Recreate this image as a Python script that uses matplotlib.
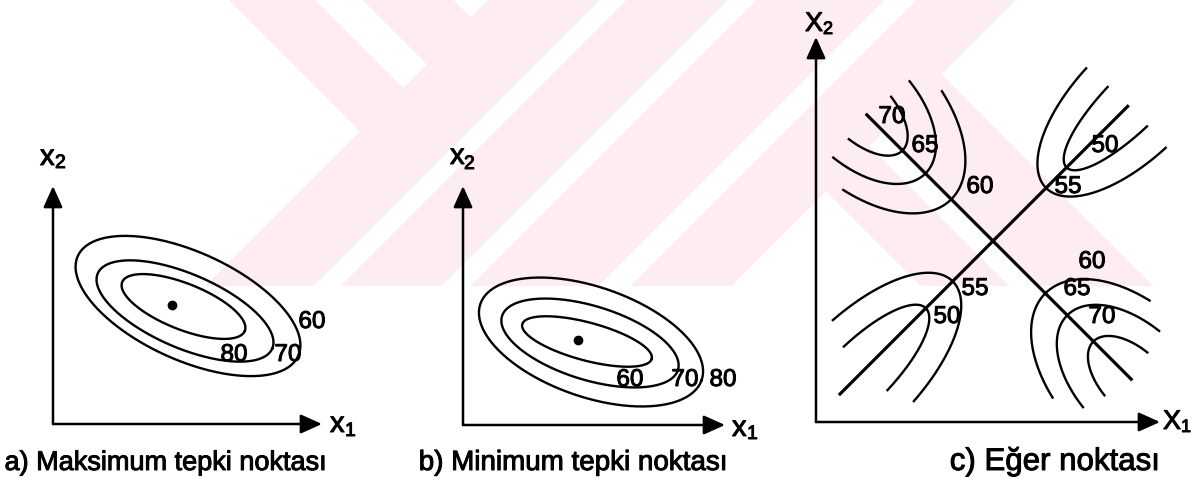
import numpy as np
import matplotlib
matplotlib.use("Agg")
import matplotlib.pyplot as plt
import matplotlib.patheffects as pe

plt.rcParams['font.family'] = ['Liberation Sans', 'DejaVu Sans']

# ---------------- data ----------------
max_levels = [80, 70, 60]            # a) contour levels, inner -> outer
min_levels = [60, 70, 80]            # b) contour levels, inner -> outer
saddle_rise_levels = [60, 65, 70]    # c) levels rising toward upper-left / lower-right
saddle_fall_levels = [55, 50]        # c) levels falling toward upper-right / lower-left
captions = ['a) Maksimum tepki noktası', 'b) Minimum tepki noktası', 'c) Eğer noktası']
axis_names_ab = [('x', '1'), ('x', '2')]
axis_names_c = [('X', '1'), ('X', '2')]

# ---------------- geometry (pixel units, y up, origin at axis corner) ----------------
W, H = 1193, 489
ell_a = dict(cx=[130.5, 132, 135], cy=[117.5, 113, 118], a=[66, 95, 121], b=[23, 37, 54], ang=[-21.7, -23.3, -24.4])
ell_b = dict(cx=[124, 127, 128], cy=[83.5, 82, 83], a=[67, 92, 117], b=[19, 37, 55], ang=[-15, -17, -19])
opt_a, opt_b = (119, 119), (115, 85)
lab_a = {80: (181, 69), 70: (235, 69), 60: (259, 102)}
lab_b = {60: (167, 45), 70: (222, 45), 80: (260, 45)}

sad_c = (177, 181)
ridge_ext = (180, 197)     # along 135 deg / -45 deg
valley_ext = (192, 218)    # along 45 deg / -135 deg
lobes = [
    dict(ang=135, Sc=190, lev=saddle_rise_levels, a_s=[131, 94.5, 62], a_t=[75, 55, 31], phi=[68.5, 79, 75]),
    dict(ang=-45, Sc=200, lev=saddle_rise_levels, a_s=[126, 95, 58], a_t=[74, 55, 31], phi=[68, 78.5, 78]),
    dict(ang=45, Sc=200, lev=saddle_fall_levels, a_s=[125, 96], a_t=[56.5, 28], phi=[84.5, 84]),
    dict(ang=-135, Sc=190, lev=saddle_fall_levels, a_s=[133, 95], a_t=[58, 31], phi=[81, 84]),
]
lab_c = [(70, (76, 305)), (65, (109, 276)), (60, (164, 235)),
         (50, (289, 276)), (55, (252, 235)),
         (60, (276, 160)), (65, (261, 133)), (70, (286, 105)),
         (55, (159, 133)), (50, (131, 105))]

fig = plt.figure(figsize=(W / 100, H / 100), dpi=100)
fig.patch.set_facecolor('white')
ink = [pe.withStroke(linewidth=0.7, foreground='black')]

# ---------------- background watermark ----------------
bg = fig.add_axes([0, 0, 1, 1])
bg.set_xlim(0, W)
bg.set_ylim(H, 0)
bg.axis('off')
X, Y = np.meshgrid(np.arange(W) + 0.5, np.arange(H) + 0.5)
u, v = X - Y, X + Y
m = Y < 287
m &= ~((u < 228) & (v < 493))
m &= ~((u > 452) & (v < 490))
m &= ~((v > 1016) & (u > 866))
m &= ~((v > 1018) & (u < 634))
m &= ~((v < 493) & (u > 314) & (u < 362))
m &= ~((v > 600) & (v < 628))
m &= ~((v > 728) & (v < 758))
m &= ~((v > 885) & (v < 918))
m &= ~((v > 1016) & (u > 722) & (u < 748))
img = np.ones((H, W, 4))
img[m, :3] = np.array([253, 238, 241]) / 255.0
img[~m, 3] = 0.0
bg.imshow(img, extent=(0, W, H, 0), interpolation='antialiased', zorder=0)


def panel(ox, oy):
    ax = fig.add_axes([0, 0, 1, 1])
    ax.set_xlim(-ox, W - ox)
    ax.set_ylim(oy - H, oy)
    ax.axis('off')
    ax.patch.set_alpha(0)
    return ax


def axes_arrows(ax, lx, ly):
    for tip in [(lx, 0), (0, ly)]:
        ax.annotate('', xy=tip, xytext=(0, 0),
                    arrowprops=dict(arrowstyle='-|>,head_length=1.0,head_width=0.45',
                                    lw=1.8, color='black', shrinkA=0, shrinkB=0,
                                    mutation_scale=13))


def ellipse(ax, cx, cy, a, b, ang, lw=1.7):
    t = np.linspace(0, 2 * np.pi, 400)
    c, s = np.cos(np.radians(ang)), np.sin(np.radians(ang))
    ax.plot(cx + a * np.cos(t) * c - b * np.sin(t) * s,
            cy + a * np.cos(t) * s + b * np.sin(t) * c, color='black', lw=lw)


def axis_label(ax, name, main_pos, sub_pos, fs_main, fs_sub):
    ax.text(*main_pos, name[0], fontsize=fs_main, ha='left', va='baseline', path_effects=ink)
    ax.text(*sub_pos, name[1], fontsize=fs_sub, ha='left', va='baseline', path_effects=ink)


num_fs = 17.5

# ---------------- a) maximum ----------------
ax = panel(53, 425)
axes_arrows(ax, 269, 238)
for i, lev in enumerate(max_levels):
    ellipse(ax, ell_a['cx'][i], ell_a['cy'][i], ell_a['a'][i], ell_a['b'][i], ell_a['ang'][i])
    ax.text(*lab_a[lev], str(lev), fontsize=num_fs, ha='center', va='center', path_effects=ink)
ax.plot(*opt_a, 'o', color='black', ms=6)
axis_label(ax, axis_names_ab[0], (277, -8), (292, -12), 21, 14)
axis_label(ax, axis_names_ab[1], (-13, 259), (2, 256), 21, 14)
ax.text(113, -46, captions[0], fontsize=19.5, ha='center', va='baseline', path_effects=ink)

# ---------------- b) minimum ----------------
ax = panel(463, 426)
axes_arrows(ax, 262, 239)
for i, lev in enumerate(min_levels):
    ellipse(ax, ell_b['cx'][i], ell_b['cy'][i], ell_b['a'][i], ell_b['b'][i], ell_b['ang'][i])
    ax.text(*lab_b[lev], str(lev), fontsize=num_fs, ha='center', va='center', path_effects=ink)
ax.plot(*opt_b, 'o', color='black', ms=6)
axis_label(ax, axis_names_ab[0], (269, -11), (284, -14), 21, 14)
axis_label(ax, axis_names_ab[1], (-13, 261), (1, 256), 21, 14)
ax.text(110, -45, captions[1], fontsize=20, ha='center', va='baseline', path_effects=ink)

# ---------------- c) saddle ----------------
ax = panel(816, 423)
axes_arrows(ax, 344, 385)
cx0, cy0 = sad_c
for ang, ext in [(135, ridge_ext[0]), (-45, ridge_ext[1]), (45, valley_ext[0]), (-135, valley_ext[1])]:
    r = np.radians(ang)
    ax.plot([cx0, cx0 + ext * np.cos(r)], [cy0, cy0 + ext * np.sin(r)], color='black', lw=2.3,
            solid_capstyle='butt')
for lobe in lobes:
    r = np.radians(lobe['ang'])
    d = np.array([np.cos(r), np.sin(r)])
    n = np.array([-np.sin(r), np.cos(r)])
    for j, lev in enumerate(lobe['lev']):
        p = np.radians(np.linspace(-lobe['phi'][j], lobe['phi'][j], 200))
        s = lobe['Sc'] - lobe['a_s'][j] * np.cos(p)
        t = lobe['a_t'][j] * np.sin(p)
        ax.plot(cx0 + s * d[0] + t * n[0], cy0 + s * d[1] + t * n[1], color='black', lw=1.7)
for lev, pos in lab_c:
    ax.text(*pos, str(lev), fontsize=num_fs, ha='center', va='center', path_effects=ink)
axis_label(ax, axis_names_c[0], (347, -7), (365, -10), 19.5, 13)
axis_label(ax, axis_names_c[1], (-11, 391), (7, 388), 19.5, 13)
ax.text(239, -48, captions[2], fontsize=22.5, ha='center', va='baseline', path_effects=ink)

fig.savefig('out.png', dpi=100, facecolor='white')
